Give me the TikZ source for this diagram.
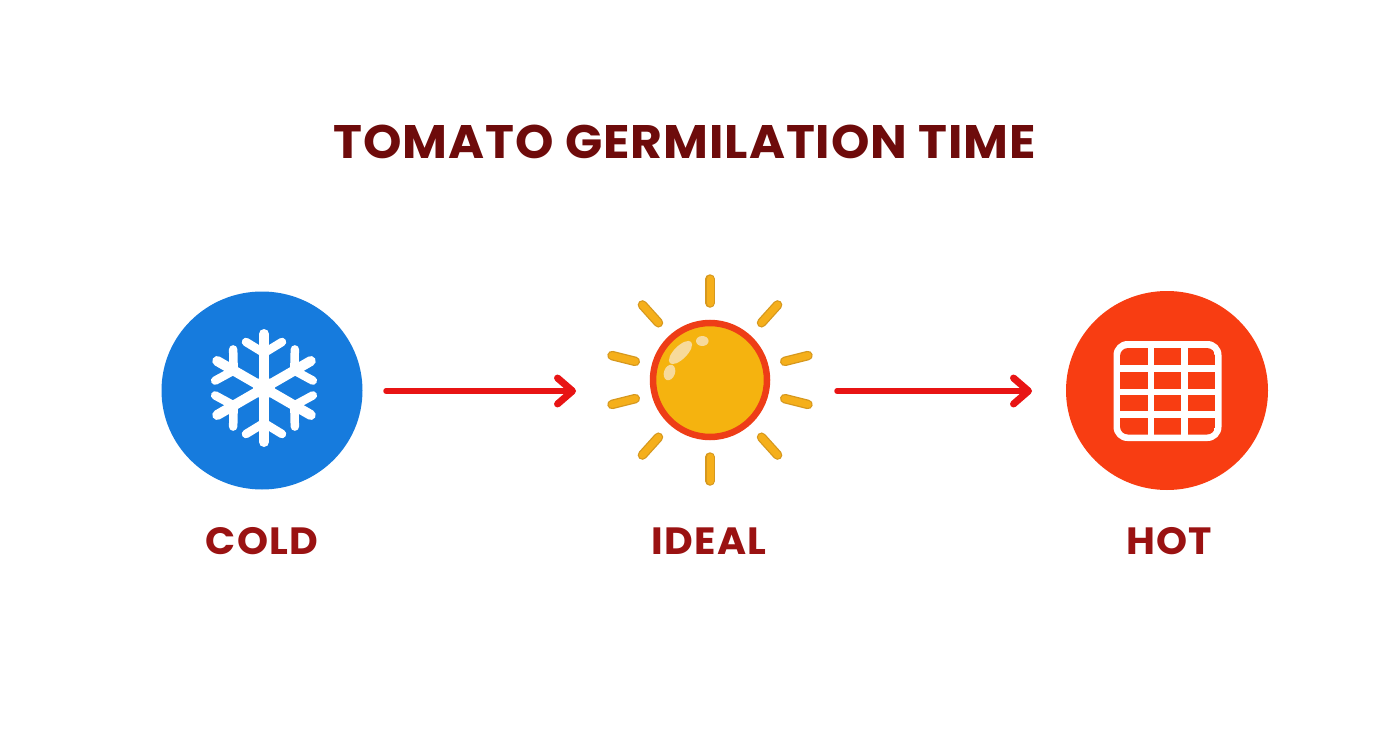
\documentclass[tikz,border=0pt]{standalone}
\usepackage{fontspec}
\setmainfont{Poppins}
\newfontfamily\titlefont[FakeStretch=1.04,LetterSpace=2]{Poppins}
\newfontfamily\labelfont[FakeStretch=1.04,LetterSpace=3]{Poppins}
\usetikzlibrary{arrows.meta,shapes.geometric}
\definecolor{titlered}{HTML}{6E0B0B}
\definecolor{labelred}{HTML}{9A1212}
\definecolor{coldblue}{HTML}{167BDD}
\definecolor{hotred}{HTML}{F83D12}
\definecolor{sunfill}{HTML}{F5B30F}
\definecolor{sunring}{HTML}{EE3D17}
\definecolor{rayedge}{HTML}{D6981E}
\definecolor{rayfill}{HTML}{F5AF1B}
\definecolor{arrowred}{HTML}{E81414}
\definecolor{gloss}{HTML}{F8E2B4}
\tikzset{
  titletext/.style={font=\titlefont\fontsize{47}{47}\selectfont\bfseries, text=titlered, inner sep=0pt},
  labeltext/.style={font=\labelfont\fontsize{38}{38}\selectfont\bfseries, text=labelred, inner sep=0pt},
  flowarrow/.style={draw=arrowred, line width=5.5pt, line cap=round, -{Straight Barb[length=15pt,width=26pt,line width=7pt,round]}},
  flakearm/.style={draw=white, line width=10pt, line cap=round},
  flakebranch/.style={draw=white, line width=8.5pt, line cap=round},
  ray/.style={draw=rayedge, line width=9.5pt, line cap=round, postaction={draw=rayfill, line width=7pt}},
  cell/.style={fill=hotred}
}
\begin{document}
\begin{tikzpicture}[x=1pt,y=-1pt]
\useasboundingbox (0,0) rectangle (1392,752);
\fill[white] (0,0) rectangle (1392,752);
\node[titletext] (title) at (685,142) {TOMATO GERMILATION TIME};
% cold
\node[fill=coldblue, ellipse, minimum width=201pt, minimum height=198pt, inner sep=0pt] (coldc) at (262,390.5) {};
\begin{scope}[shift={(264,388)}]
  \fill[white] (0,0) circle (11pt);
  \foreach \a in {0,60,...,300}{
    \begin{scope}[rotate=\a]
      \draw[flakearm] (0,0) -- (0,-54);
      \draw[flakebranch] (0,-35) -- (-18,-46);
      \draw[flakebranch] (0,-35) -- (18,-46);
    \end{scope}
  }
\end{scope}
\node[labeltext] (coldl) at (262,541) {COLD};
% sun
\begin{scope}[shift={(710,380)}]
  \foreach \a in {-90,90,-48,48,132,228,-14,14,166,194}{
    \draw[ray] (\a:77) -- (\a:101);
  }
\end{scope}
\node[circle, fill=sunfill, draw=sunring, line width=6.5pt, minimum size=114pt, inner sep=0pt] (sun) at (710,380) {};
\fill[gloss, opacity=.85, rotate around={45:(680.5,352.5)}] (680.5,352.5) ellipse (15pt and 6.5pt);
\fill[gloss, opacity=.85, rotate around={70:(669.5,372.5)}] (669.5,372.5) ellipse (8pt and 5.5pt);
\fill[gloss, opacity=.85] (702.3,341) ellipse (6.3pt and 5pt);
\node[labeltext] (ideall) at (709,541) {IDEAL};
% hot
\node[fill=hotred, ellipse, minimum width=202pt, minimum height=199pt, inner sep=0pt] (hotc) at (1167,390.5) {};
\fill[white, rounded corners=14pt] (1113.5,341) rectangle (1221.5,441);
\begin{scope}
  \clip[rounded corners=8pt] (1120,348) rectangle (1215,434.5);
  \foreach \xa/\xb in {1120/1147.5,1154/1181,1187.5/1215}{
    \foreach \ya/\yb in {348/365,372/388.5,395/411,417.5/434.5}{
      \fill[cell] (\xa,\ya) rectangle (\xb,\yb);
    }
  }
\end{scope}
\node[labeltext] (hotl) at (1169,541) {HOT};
% arrows
\coordinate (a1s) at (386,391);
\coordinate (a1e) at (576,391);
\coordinate (a2s) at (837,391);
\coordinate (a2e) at (1032,391);
\draw[flowarrow] (a1s) -- (a1e);
\draw[flowarrow] (a2s) -- (a2e);
\end{tikzpicture}
\end{document}
